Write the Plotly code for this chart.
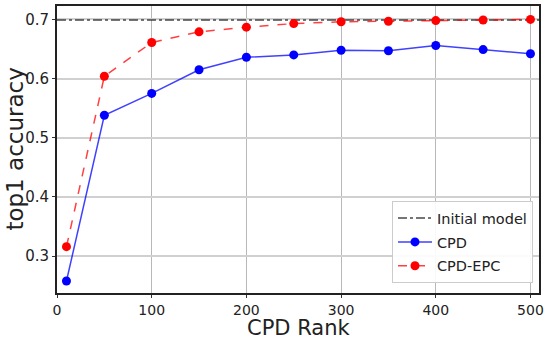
import plotly.graph_objects as go

ranks = [10, 50, 100, 150, 200, 250, 300, 350, 400, 450, 500]
cpd = [0.258, 0.538, 0.575, 0.615, 0.636, 0.640, 0.648, 0.647, 0.656, 0.649, 0.642]
cpd_epc = [0.316, 0.604, 0.661, 0.679, 0.687, 0.693, 0.696, 0.697, 0.698, 0.699, 0.700]
initial_acc = 0.699

x_range = [0, 509]
y_range = [0.2377, 0.7227]
x_ticks = [0, 100, 200, 300, 400, 500]
y_ticks = [0.3, 0.4, 0.5, 0.6, 0.7]

font = "DejaVu Sans"

fig = go.Figure()
fig.add_trace(go.Scatter(
    x=x_range, y=[initial_acc, initial_acc], mode="lines", name="Initial model",
    legendgroup="a",
    line=dict(color="rgba(40,40,40,0.85)", width=1.5, dash="dashdot"),
))
fig.add_trace(go.Scatter(
    x=ranks, y=cpd, mode="lines+markers", name="CPD", legendgroup="b",
    line=dict(color="rgba(0,0,255,0.75)", width=1.5),
    marker=dict(color="#0000ff", size=9),
))
fig.add_trace(go.Scatter(
    x=ranks, y=cpd_epc, mode="lines+markers", name="CPD-EPC", legendgroup="c",
    line=dict(color="rgba(255,0,0,0.75)", width=1.5, dash="dash"),
    marker=dict(color="#ff0000", size=9),
))

fig.update_layout(
    width=545, height=342,
    margin=dict(l=57, r=6, t=6, b=49, autoexpand=False),
    paper_bgcolor="white", plot_bgcolor="white",
    font=dict(family=font, color="#222", size=15),
    legend=dict(
        x=0.695, y=0.32, xanchor="left", yanchor="top",
        bgcolor="rgba(255,255,255,0.9)", bordercolor="#cccccc", borderwidth=1,
        font=dict(size=14.5, family=font), itemwidth=34, tracegroupgap=2,
        traceorder="grouped",
    ),
    showlegend=True,
    annotations=[
        dict(text="CPD Rank", xref="paper", yref="paper", x=0.5, y=-(341 - 293) / 287,
             xanchor="center", yanchor="bottom", showarrow=False, borderpad=0,
             font=dict(size=21, family=font, color="#222")),
        dict(text="top1 accuracy", xref="paper", yref="paper", x=-0.089, y=0.5,
             xanchor="center", yanchor="middle", showarrow=False, textangle=-90,
             borderpad=0,
             font=dict(size=23, family=font, color="#222")),
    ],
)
fig.update_xaxes(
    range=x_range, tickvals=x_ticks, ticks="outside", ticklen=3, tickcolor="#333",
    showgrid=True, gridcolor="#b8b8b8", gridwidth=1,
    showline=True, linecolor="#222", linewidth=2, mirror=True,
    zeroline=False, automargin=False,
    tickfont=dict(size=14, family=font),
)
fig.update_yaxes(
    range=y_range, tickvals=y_ticks, tickformat=".1f", ticks="outside", ticklen=3, tickcolor="#333",
    showgrid=True, gridcolor="#d0d0d0", gridwidth=2,
    showline=True, linecolor="#222", linewidth=2, mirror=True,
    zeroline=False, automargin=False,
    tickfont=dict(size=15, family=font),
)

fig.write_html("out.html")
